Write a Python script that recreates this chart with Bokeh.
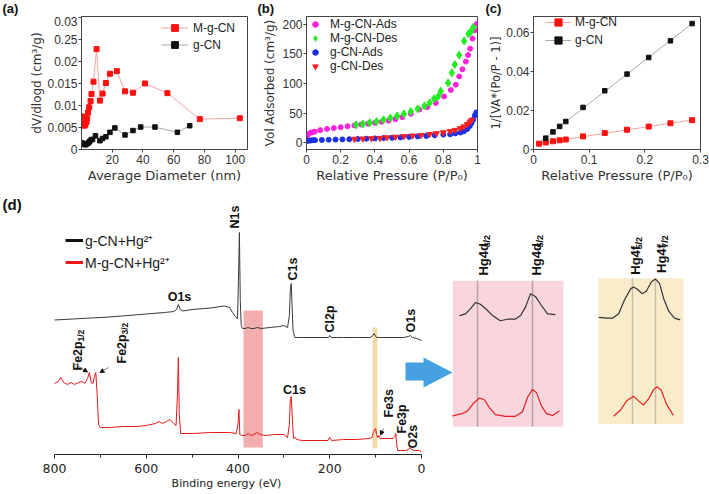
import numpy as np
from bokeh.plotting import figure
from bokeh.models import Range1d, LinearAxis, FixedTicker, Legend, LegendItem, Arrow, NormalHead
from bokeh.layouts import row, column
from bokeh.core.properties import value
from bokeh.embed import file_html
from bokeh.resources import INLINE

# ---------------- data ----------------
# (a) pore size distribution
a_mgcn_d = [0.65, 1.1, 1.5, 2.0, 2.6, 3.3, 3.7, 4.3, 5.0, 5.9, 6.5, 7.8, 9.8, 12.0, 13.7, 15.9, 18.5, 23.0, 28.3, 33.5, 41.3, 55.9, 77.0, 103.0]
a_mgcn_v = [0.0075, 0.0065, 0.0056, 0.0054, 0.0057, 0.0063, 0.0071, 0.0084, 0.0096, 0.011, 0.0126, 0.0154, 0.0228, 0.0111, 0.0127, 0.0151, 0.0172, 0.0178, 0.0132, 0.0129, 0.015, 0.0128, 0.0069, 0.0071]
a_gcn_d = [0.4, 1.5, 2.2, 2.8, 3.5, 4.1, 4.8, 5.4, 6.3, 7.2, 9.1, 12.0, 13.7, 15.9, 18.5, 21.7, 28.3, 33.5, 38.5, 47.8, 62.4, 70.4]
a_gcn_v = [0.0015, 0.0013, 0.0011, 0.0011, 0.0013, 0.0014, 0.0016, 0.0019, 0.0022, 0.0023, 0.0031, 0.002, 0.0025, 0.0029, 0.0039, 0.0049, 0.0033, 0.0043, 0.0051, 0.0051, 0.0039, 0.0054]
a_xticks = [20, 40, 60, 80, 100]
a_yticks = [0, 0.005, 0.01, 0.015, 0.02, 0.025, 0.03]
a_ylabels = ["0", "0.005", "0.01", "0.015", "0.02", "0.25", "0.03"]

# (b) N2 isotherms
b_mads_p = [0.004, 0.012, 0.023, 0.035, 0.048, 0.08, 0.12, 0.16, 0.2, 0.24, 0.28, 0.32, 0.36, 0.4, 0.44, 0.48, 0.52, 0.56, 0.61, 0.66, 0.707, 0.756, 0.805, 0.844, 0.873, 0.893, 0.912, 0.932, 0.945, 0.957, 0.971, 0.984, 0.996]
b_mads_v = [12, 14.5, 16.5, 17.5, 18.5, 21, 23, 24.5, 26, 27.5, 29, 30.5, 32, 33.5, 35, 37, 39.5, 43, 48.6, 56, 60, 67, 78, 89, 98, 112, 124, 137, 148, 159, 176, 190, 201]
b_mdes_p = [0.29, 0.33, 0.37, 0.41, 0.45, 0.49, 0.53, 0.57, 0.61, 0.65, 0.69, 0.72, 0.746, 0.77, 0.785, 0.828, 0.85, 0.867, 0.893, 0.922, 0.947, 0.962, 0.975]
b_mdes_v = [30, 31.5, 33.5, 35.5, 38.5, 41.5, 45, 48.5, 52.5, 57, 62, 67, 74, 78, 87, 101, 118, 132, 148, 172, 184, 188, 195]
b_gads_p = [0.003, 0.01, 0.02, 0.03, 0.04, 0.05, 0.09, 0.13, 0.17, 0.21, 0.25, 0.3, 0.35, 0.4, 0.45, 0.5, 0.55, 0.6, 0.65, 0.7, 0.75, 0.8, 0.84, 0.87, 0.9, 0.92, 0.94, 0.955, 0.965, 0.975, 0.985, 0.993]
b_gads_v = [3, 3.2, 3.4, 3.6, 3.8, 4, 4.3, 4.6, 5, 5.3, 5.6, 6, 6.5, 7, 7.5, 8, 8.7, 9.5, 10.3, 11.2, 12.3, 13.5, 14, 15.5, 17, 19, 23, 28, 33, 39, 46, 51]
b_gdes_p = [0.28, 0.33, 0.38, 0.43, 0.47, 0.52, 0.57, 0.62, 0.67, 0.72, 0.76, 0.8, 0.84, 0.87, 0.9, 0.92, 0.94, 0.955, 0.965]
b_gdes_v = [6, 6.5, 7, 7.5, 8.5, 9.5, 10.5, 11.5, 12.5, 14, 15.5, 17, 19, 21, 24, 27, 31, 35, 38]
b_xticks = [0, 0.2, 0.4, 0.6, 0.8, 1.0]
b_xlabels = ["0", "0.2", "0.4", "0.6", "0.8", "1"]
b_yticks = [0, 50, 100, 150, 200]

# (c) BET plots
c_mgcn_p = [0.01, 0.022, 0.035, 0.047, 0.058, 0.089, 0.128, 0.168, 0.207, 0.246, 0.285]
c_mgcn_v = [0.003, 0.0036, 0.0042, 0.0047, 0.0051, 0.0067, 0.0084, 0.0101, 0.0117, 0.0134, 0.015]
c_gcn_p = [0.022, 0.035, 0.047, 0.058, 0.089, 0.128, 0.168, 0.207, 0.246, 0.285]
c_gcn_v = [0.0058, 0.009, 0.0118, 0.0143, 0.0215, 0.030, 0.0385, 0.047, 0.0555, 0.0643]
c_xticks = [0, 0.1, 0.2, 0.3]
c_xlabels = ["0", "0.1", "0.2", "0.3"]
c_yticks = [0, 0.02, 0.04, 0.06]
c_ylabels = ["0", "0.02", "0.04", "0.06"]

# (d) XPS survey (binding energy eV, intensity a.u.)
s_gcn_be = [800, 760, 720, 680, 640, 600, 560, 540, 534, 530,
            526, 520, 500, 460, 430, 418, 412, 406, 401, 399,
            397, 395, 393, 390, 385, 378, 372, 365, 358, 350,
            330, 310, 300, 292, 288, 286, 284, 282.5, 280, 276,
            260, 230, 203, 200, 197, 170, 140, 112, 106, 103,
            100, 97, 90, 60, 40, 28, 24, 20, 10, 0]
s_gcn_i = [134.5, 135.5, 136.5, 137.5, 139, 140.5, 142, 143, 145, 150,
           145, 143.5, 145, 146.5, 148.5, 147, 142, 138, 136, 174,
           222, 154, 129, 126, 126, 127, 126, 126, 127, 126,
           127, 128, 129, 127, 139, 164, 171, 154, 124, 117,
           117, 117, 117, 119, 117, 117, 117, 117, 119, 121,
           118, 117, 117, 117, 117, 118, 119, 117, 116, 114]
s_mgcn_be = [800, 792, 786, 780, 772, 764, 756, 748, 740, 734,
             728, 724, 720, 716, 713, 710, 707, 704, 700, 680,
             650, 620, 600, 580, 572, 565, 556, 548, 540, 535,
             532, 530, 528, 525, 500, 460, 420, 404, 400, 398,
             396, 392, 385, 378, 372, 365, 359, 352, 340, 320,
             300, 292, 288, 286, 284, 282, 279, 275, 272, 260,
             230, 204, 200, 196, 170, 140, 115, 108, 105, 103,
             100, 98, 95, 93, 90, 80, 70, 62, 58, 56,
             54, 52, 45, 35, 28, 25, 22, 15, 5, 0]
s_mgcn_i = [71, 73, 77, 72, 70, 72, 70, 72, 73, 71,
            76, 82, 72, 71, 78, 82, 60, 30, 27, 27,
            28, 28, 29, 31, 33, 31, 33, 35, 31, 29,
            60, 97, 40, 21, 21, 22, 22, 21, 30, 45,
            20, 19, 19, 21, 19, 20, 22, 20, 19, 20,
            20, 17, 30, 55, 58, 40, 16, 17, 15, 14,
            14, 14, 17, 14, 15, 15, 16, 17, 22, 24,
            26, 20, 17, 19, 16, 16, 16, 16, 18, 21,
            10, 4, 4, 4, 5, 7, 5, 4, 4, 3]
s_ticks = [0, 200, 400, 600, 800]
s_minor = [100, 300, 500, 700]

# Hg 4d high-resolution (eV, a.u.)
hg4d_gcn_be = [384.2, 382.1, 380.4, 378.7, 377.0, 374.9, 372.8, 370.1, 367.3, 364.9, 363.1, 361.4, 359.7, 358.0, 356.2, 353.8, 351.1]
hg4d_gcn_i = [120, 122, 128, 135, 133, 127, 120, 114, 116, 116, 120, 130, 145, 142, 133, 122, 121]
hg4d_mgcn_be = [387.0, 383.5, 381.5, 379.4, 377.3, 375.6, 373.9, 371.8, 368.3, 364.9, 362.5, 360.7, 359.0, 357.6, 355.9, 354.2, 352.1, 349.7]
hg4d_mgcn_i = [4, 7, 10, 19, 25, 23, 14, 6, 4, 4, 9, 26, 35, 31, 16, 7, 5, 10]
hg4d_peaks = [378.0, 359.0]
# Hg 4f high-resolution (eV, a.u.)
hg4f_gcn_be = [110.4, 109.0, 108.0, 106.9, 105.9, 104.8, 104.3, 103.6, 102.8, 102.1, 101.2, 100.5, 99.8, 99.1, 98.2, 97.2, 96.2]
hg4f_gcn_i = [118, 117, 117, 122, 138, 151, 153, 150, 145, 148, 159, 162, 157, 140, 125, 117, 115]
hg4f_mgcn_be = [107.8, 106.6, 105.5, 104.3, 103.5, 102.6, 101.7, 100.8, 100.2, 99.5, 98.6, 97.4]
hg4f_mgcn_i = [4, 11, 22, 27, 22, 17, 24, 35, 38, 34, 18, 5]
hg4f_peaks = [104.5, 100.5]

# ---------------- styling helpers ----------------
TICKF = "Liberation Sans"
LABF = "DejaVu Sans"
AX = "#444444"
TXT = "#333333"
NAN = [float("nan")]
UP = np.pi / 2
TOPH = 16          # height of the strip carrying the panel letters
PH = 190 - TOPH    # height of the three upper panels


def txt(p, x, y, s, size, angle=0.0, align="left", baseline="middle", bold=True,
        font=TICKF, color="#111111", **kw):
    p.text(x=[x], y=[y], text=[s], angle=angle, text_align=align, text_baseline=baseline,
           text_font=value(font), text_font_size=value(size),
           text_font_style="bold" if bold else "normal", text_color=color, **kw)


def panel(w, borders, xr, yr, ylabel, ylabel_size, ylabel_standoff):
    l, r, t, b = borders
    p = figure(width=w, height=PH, x_range=Range1d(*xr), y_range=Range1d(*yr),
               min_border_left=l, min_border_right=r, min_border_top=t, min_border_bottom=b,
               toolbar_location=None, output_backend="svg", title=None)
    p.xgrid.visible = False
    p.ygrid.visible = False
    p.outline_line_color = AX
    for ax in p.axis:
        ax.axis_line_color = AX
        ax.major_tick_line_color = AX
        ax.major_tick_out = 3
        ax.major_tick_in = 0
        ax.minor_tick_line_color = None
        ax.major_label_text_font = TICKF
        ax.major_label_text_font_size = "12px"
        ax.major_label_text_color = TXT
        ax.axis_label_text_font = LABF
        ax.axis_label_text_font_style = "normal"
        ax.axis_label_text_color = TXT
    p.xaxis.axis_label_text_font_size = "13px"
    p.xaxis.axis_label_standoff = 1
    p.xaxis.major_label_standoff = 2
    p.yaxis.major_label_standoff = 1
    p.yaxis.axis_label = ylabel
    p.yaxis.axis_label_text_font_size = ylabel_size
    p.yaxis.axis_label_standoff = ylabel_standoff
    return p


def legend(items, loc, gw, gh, standoff, pad, size="12px", spacing=0):
    lg = Legend(items=items, location=loc, glyph_width=gw, glyph_height=gh, label_height=gh,
                label_standoff=standoff, padding=pad, spacing=spacing, margin=0,
                border_line_color=None, background_fill_alpha=0,
                label_text_font=TICKF, label_text_font_size=size, label_text_color="#222222")
    return lg

# ---------------- thin strip with the panel letters ----------------
top = figure(width=709, height=TOPH, x_range=Range1d(0, 709), y_range=Range1d(TOPH, 0),
             min_border_left=0, min_border_right=0, min_border_top=0, min_border_bottom=0,
             x_axis_location=None, y_axis_location=None, toolbar_location=None,
             output_backend="svg", title=None)
top.outline_line_color = None
top.xgrid.visible = False
top.ygrid.visible = False
for s, x in [("(a)", 2), ("(b)", 257), ("(c)", 485)]:
    txt(top, x, TOPH / 2, s, "13px")

# ---------------- (a) ----------------
pa = panel(250, (81, 3, 0, 41), (0, 108), (0, 0.0302), "dV/dlogd (cm³/g)", "12px", 0)
pa.xaxis.ticker = FixedTicker(ticks=a_xticks)
pa.yaxis.ticker = FixedTicker(ticks=a_yticks)
pa.yaxis.major_label_overrides = dict(zip(a_yticks, a_ylabels))
pa.xaxis.axis_label = "Average Diameter (nm)"
la1 = pa.line(a_mgcn_d, a_mgcn_v, line_color="#f2a2a2", line_width=1)
ma1 = pa.scatter(a_mgcn_d, a_mgcn_v, marker="square", size=5, color="#ff1010")
la2 = pa.line(a_gcn_d, a_gcn_v, line_color="#a8a8a8", line_width=1)
ma2 = pa.scatter(a_gcn_d, a_gcn_v, marker="square", size=4.5, color="#111111")
pa.add_layout(legend([LegendItem(label="M-g-CN", renderers=[la1, ma1]),
                      LegendItem(label="g-CN", renderers=[la2, ma2])],
                     (80, 96), 27, 17, 5, 1))

# ---------------- (b) ----------------
pb = panel(235, (56, 8, 0, 40), (0, 1), (-11.8, 213.4), "Vol Adsorbed (cm³/g)", "12px", 2)
pb.xaxis.ticker = FixedTicker(ticks=b_xticks)
pb.xaxis.major_label_overrides = dict(zip(b_xticks, b_xlabels))
pb.yaxis.ticker = FixedTicker(ticks=b_yticks)
pb.xaxis.axis_label = "Relative Pressure (P/P₀)"
rb1 = pb.scatter(b_mads_p, b_mads_v, marker="circle", size=5, color="#ff22dd")
rb2 = pb.scatter(b_mdes_p, b_mdes_v, marker="diamond", size=8, color="#22ee22")
rb3 = pb.scatter(b_gads_p, b_gads_v, marker="circle", size=5, color="#1830e8")
rb4 = pb.scatter(b_gdes_p, b_gdes_v, marker="inverted_triangle", size=6, color="#ff2020")
pb.add_layout(legend([LegendItem(label="M-g-CN-Ads", renderers=[rb1]),
                      LegendItem(label="M-g-CN-Des", renderers=[rb2]),
                      LegendItem(label="g-CN-Ads", renderers=[rb3]),
                      LegendItem(label="g-CN-Des", renderers=[rb4])],
                     (2, 76.5), 14, 14, 8, 1))

# ---------------- (c) ----------------
pc = panel(224, (48, 9, 0, 37), (0, 0.3), (0, 0.06793), "1/[VA*(Po/P - 1)]", "11.5px", 0)
pc.xaxis.ticker = FixedTicker(ticks=c_xticks)
pc.xaxis.major_label_overrides = dict(zip(c_xticks, c_xlabels))
pc.yaxis.ticker = FixedTicker(ticks=c_yticks)
pc.yaxis.major_label_overrides = dict(zip(c_yticks, c_ylabels))
pc.xaxis.axis_label = "Relative Pressure (P/P₀)"
fit_x = np.array([min(c_mgcn_p), max(c_mgcn_p)])
km, bm = np.polyfit(c_mgcn_p, c_mgcn_v, 1)
kg, bg = np.polyfit(c_gcn_p, c_gcn_v, 1)
lc1 = pc.line(fit_x, km * fit_x + bm, line_color="#f2a2a2", line_width=1)
mc1 = pc.scatter(c_mgcn_p, c_mgcn_v, marker="square", size=5, color="#ff1010")
fit_xg = np.array([0.013, max(c_gcn_p)])
lc2 = pc.line(fit_xg, kg * fit_xg + bg, line_color="#a8a8a8", line_width=1)
mc2 = pc.scatter(c_gcn_p, c_gcn_v, marker="square", size=4.5, color="#111111")
pc.add_layout(legend([LegendItem(label="M-g-CN", renderers=[lc1, mc1]),
                      LegendItem(label="g-CN", renderers=[lc2, mc2])],
                     (12, 100), 26, 18, 4, 1))

# ---------------- (d) survey ----------------
PX_PER_EV = 367.0 / 800.0


def be_at(px):
    return (421.0 - px) / PX_PER_EV


ps = figure(width=452, height=304, x_range=Range1d(0, 452), y_range=Range1d(454, 190),
            min_border_left=0, min_border_right=0, min_border_top=0, min_border_bottom=40,
            x_axis_location=None, y_axis_location=None, toolbar_location=None,
            output_backend="svg", title=None)
ps.outline_line_color = None
ps.xgrid.visible = False
ps.ygrid.visible = False
ps.extra_x_ranges = {"be": Range1d(be_at(0), be_at(452))}
ps.extra_y_ranges = {"int": Range1d(0, 264)}
bax = LinearAxis(x_range_name="be", bounds=(0, 800),
                 ticker=FixedTicker(ticks=s_ticks, minor_ticks=s_minor))
bax.axis_label = "Binding energy (eV)"
bax.axis_line_color = "#222222"
bax.major_tick_line_color = "#222222"
bax.minor_tick_line_color = "#222222"
bax.major_tick_out = 4
bax.major_tick_in = 0
bax.minor_tick_out = 3
bax.minor_tick_in = 0
bax.major_label_standoff = 5
bax.axis_label_standoff = 1
bax.major_label_text_font = LABF
bax.major_label_text_font_size = "12.5px"
bax.major_label_text_color = "#222222"
bax.axis_label_text_font = LABF
bax.axis_label_text_font_size = "11px"
bax.axis_label_text_font_style = "normal"
bax.axis_label_text_color = "#222222"
ps.add_layout(bax, "below")

# highlighted Hg regions
ps.quad(left=388, right=346, bottom=7, top=144, x_range_name="be", y_range_name="int",
        fill_color="#f0a0a0", fill_alpha=0.85, line_color=None)
ps.quad(left=106.8, right=95.9, bottom=6, top=127, x_range_name="be", y_range_name="int",
        fill_color="#f3d8a0", fill_alpha=0.9, line_color=None)

ps.line(s_gcn_be, s_gcn_i, x_range_name="be", y_range_name="int", line_color="#3a3a3a", line_width=1)
ps.line(s_mgcn_be, s_mgcn_i, x_range_name="be", y_range_name="int", line_color="#e81818", line_width=1)

# legend (thick short lines)
lg1 = ps.line(x=NAN, y=NAN, line_color="#111111", line_width=3)
lg2 = ps.line(x=NAN, y=NAN, line_color="#e81818", line_width=3)
ps.add_layout(legend([LegendItem(label="g-CN+Hg²⁺", renderers=[lg1]),
                      LegendItem(label="M-g-CN+Hg²⁺", renderers=[lg2])],
                     (65, 181), 18, 22, 2, 0, size="14px"))

# peak labels
txt(ps, 2, 204, "(d)", "15px")
RS = "12.5px"
for s, x, yb in [("N1s", 234, 228), ("C1s", 292, 280), ("Cl2p", 329, 332), ("O1s", 410, 332),
                 ("Fe3s", 388, 417), ("Fe3p", 401, 433), ("O2s", 412, 448)]:
    txt(ps, x, yb, s, RS, angle=UP, align="left", baseline="middle")
txt(ps, 179, 296, "O1s", RS, align="center")
txt(ps, 294, 389, "C1s", RS, align="center")
# Fe2p labels with subscripts
for xb, y0, sub in [(77, 370, "1/2"), (121, 363, "3/2")]:
    txt(ps, xb, y0, "Fe2p", RS, angle=UP, baseline="alphabetic")
    txt(ps, xb + 3, y0 - 29, sub, "8.5px", angle=UP, baseline="alphabetic")
# pointer arrows
for x0, y0, x1, y1 in [(72, 362, 87, 371.5), (108, 367, 99.5, 372), (383, 428, 380, 434.5)]:
    ps.add_layout(Arrow(x_start=x0, y_start=y0, x_end=x1, y_end=y1, line_color="#777777",
                        line_width=1, end=NormalHead(size=4, fill_color="#111111", line_color="#111111")))
# blue arrow
ps.patch([405, 423, 423, 452, 423, 423, 405], [362, 362, 357, 372, 387, 380, 380],
         fill_color="#45a1e0", line_color=None)

# ---------------- (d) Hg insets ----------------
def lin_range(px_a, v_a, px_b, v_b, lo, hi):
    k = (v_b - v_a) / (px_b - px_a)
    return Range1d(v_a + (lo - px_a) * k, v_a + (hi - px_a) * k)


pi = figure(width=257, height=304, x_range=Range1d(452, 709), y_range=Range1d(494, 190),
            min_border_left=0, min_border_right=0, min_border_top=0, min_border_bottom=0,
            x_axis_location=None, y_axis_location=None, toolbar_location=None,
            output_backend="svg", title=None)
pi.outline_line_color = None
pi.xgrid.visible = False
pi.ygrid.visible = False
pi.extra_x_ranges = {"hg4d": lin_range(477, hg4d_peaks[0], 532, hg4d_peaks[1], 452, 709),
                     "hg4f": lin_range(632, hg4f_peaks[0], 655, hg4f_peaks[1], 452, 709)}
pi.extra_y_ranges = {"int": Range1d(-40, 264)}

pi.quad(left=452, right=563, top=294, bottom=462, fill_color="#f9d5dd", line_color=None)
pi.quad(left=598, right=683, top=291, bottom=459, fill_color="#f9eccb", line_color=None)
pi.segment(x0=hg4d_peaks, x1=hg4d_peaks, y0=[294, 294], y1=[462, 462], x_range_name="hg4d",
           line_color="#b8a4a8", line_width=1.5)
pi.segment(x0=hg4f_peaks, x1=hg4f_peaks, y0=[291, 291], y1=[459, 459], x_range_name="hg4f",
           line_color="#c8bea4", line_width=1.5)
pi.line(hg4d_gcn_be, hg4d_gcn_i, x_range_name="hg4d", y_range_name="int", line_color="#333333", line_width=1.2)
pi.line(hg4d_mgcn_be, hg4d_mgcn_i, x_range_name="hg4d", y_range_name="int", line_color="#e82020", line_width=1.2)
pi.line(hg4f_gcn_be, hg4f_gcn_i, x_range_name="hg4f", y_range_name="int", line_color="#333333", line_width=1.2)
pi.line(hg4f_mgcn_be, hg4f_mgcn_i, x_range_name="hg4f", y_range_name="int", line_color="#e82020", line_width=1.2)

for xb, y0, main, sub, mlen in [(483, 288, "Hg4d", "3/2", 32.5), (536, 288, "Hg4d", "5/2", 32.5),
                                (635, 287, "Hg4f", "5/2", 29), (661, 285, "Hg4f", "7/2", 29)]:
    txt(pi, xb, y0, main, "13px", angle=UP, baseline="alphabetic")
    txt(pi, xb + 3, y0 - mlen, sub, "9px", angle=UP, baseline="alphabetic")

layout = column(top, row(pa, pb, pc), row(ps, pi))
open("out.html", "w").write(file_html(layout, INLINE))
